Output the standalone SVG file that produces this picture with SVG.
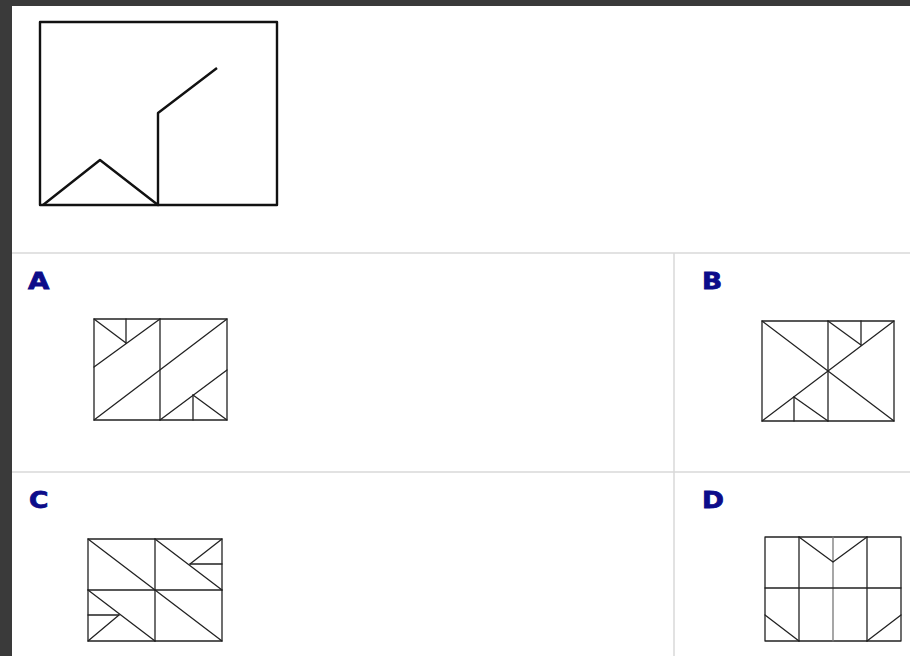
<svg xmlns="http://www.w3.org/2000/svg" width="910" height="656" viewBox="0 0 910 656">
<style>
.fig{fill:none;stroke:#222;stroke-width:1.3;stroke-linejoin:round;stroke-linecap:round}
.main{fill:none;stroke:#111;stroke-width:2.4;stroke-linejoin:round}
.div{stroke:#d9d9d9;stroke-width:1.5}
.lbl{font-family:"DejaVu Sans",Verdana,sans-serif;font-weight:bold;font-size:23px;fill:#0c0c8a;stroke:#0c0c8a;stroke-width:0.8}
</style>
<rect x="0" y="0" width="910" height="656" fill="#3a3a3a"/>
<rect x="12" y="6" width="898" height="650" fill="#ffffff"/>
<g id="connectors">
<line class="div" x1="12" y1="253" x2="910" y2="253"/>
<line class="div" x1="12" y1="472" x2="910" y2="472"/>
<line class="div" x1="674" y1="253" x2="674" y2="656"/>
</g>
<g id="question">
<rect class="main" x="40" y="22" width="237" height="183"/>
<polyline class="main" points="43,205 100,160 158,205 158,113 217,68"/>
</g>
<g id="optionA">
<text class="lbl" x="28" y="289" transform="translate(28 289) scale(1.2 1) translate(-28 -289)">A</text>
<rect class="fig" x="94" y="319" width="133" height="101"/>
<line class="fig" x1="160" y1="319" x2="160" y2="420"/>
<line class="fig" x1="94" y1="319" x2="126" y2="343"/>
<line class="fig" x1="126" y1="319" x2="126" y2="343"/>
<line class="fig" x1="94" y1="367" x2="160" y2="319"/>
<line class="fig" x1="94" y1="420" x2="227" y2="319"/>
<line class="fig" x1="160" y1="420" x2="227" y2="370"/>
<line class="fig" x1="193" y1="395" x2="193" y2="420"/>
<line class="fig" x1="193" y1="395" x2="227" y2="420"/>
</g>
<g id="optionB">
<text class="lbl" x="702" y="289" transform="translate(702 289) scale(1.15 1) translate(-702 -289)">B</text>
<rect class="fig" x="762" y="321" width="132" height="100"/>
<line class="fig" x1="828" y1="321" x2="828" y2="421"/>
<line class="fig" x1="762" y1="321" x2="894" y2="421"/>
<line class="fig" x1="762" y1="421" x2="894" y2="321"/>
<line class="fig" x1="828" y1="321" x2="861" y2="345"/>
<line class="fig" x1="861" y1="321" x2="861" y2="345"/>
<line class="fig" x1="794" y1="397" x2="794" y2="421"/>
<line class="fig" x1="794" y1="397" x2="828" y2="421"/>
</g>
<g id="optionC">
<text class="lbl" x="29" y="508" transform="translate(29 508) scale(1.15 1) translate(-29 -508)">C</text>
<rect class="fig" x="88" y="539" width="134" height="102"/>
<line class="fig" x1="155" y1="539" x2="155" y2="641"/>
<line class="fig" x1="88" y1="590" x2="222" y2="590"/>
<line class="fig" x1="88" y1="539" x2="222" y2="641"/>
<line class="fig" x1="155" y1="539" x2="222" y2="590"/>
<line class="fig" x1="190" y1="564" x2="222" y2="539"/>
<line class="fig" x1="190" y1="564" x2="222" y2="564"/>
<line class="fig" x1="88" y1="590" x2="155" y2="641"/>
<line class="fig" x1="88" y1="615" x2="119" y2="615"/>
<line class="fig" x1="119" y1="615" x2="88" y2="641"/>
</g>
<g id="optionD">
<text class="lbl" x="702" y="508" transform="translate(702 508) scale(1.15 1) translate(-702 -508)">D</text>
<rect class="fig" x="765" y="537" width="136" height="104"/>
<line class="fig" x1="799" y1="537" x2="799" y2="641"/>
<line class="fig" x1="833" y1="537" x2="833" y2="641" style="stroke:#777"/>
<line class="fig" x1="867" y1="537" x2="867" y2="641"/>
<line class="fig" x1="765" y1="588" x2="901" y2="588"/>
<polyline class="fig" points="799,537 833,562 867,537"/>
<line class="fig" x1="765" y1="615" x2="799" y2="641"/>
<line class="fig" x1="867" y1="641" x2="901" y2="615"/>
</g>
</svg>
